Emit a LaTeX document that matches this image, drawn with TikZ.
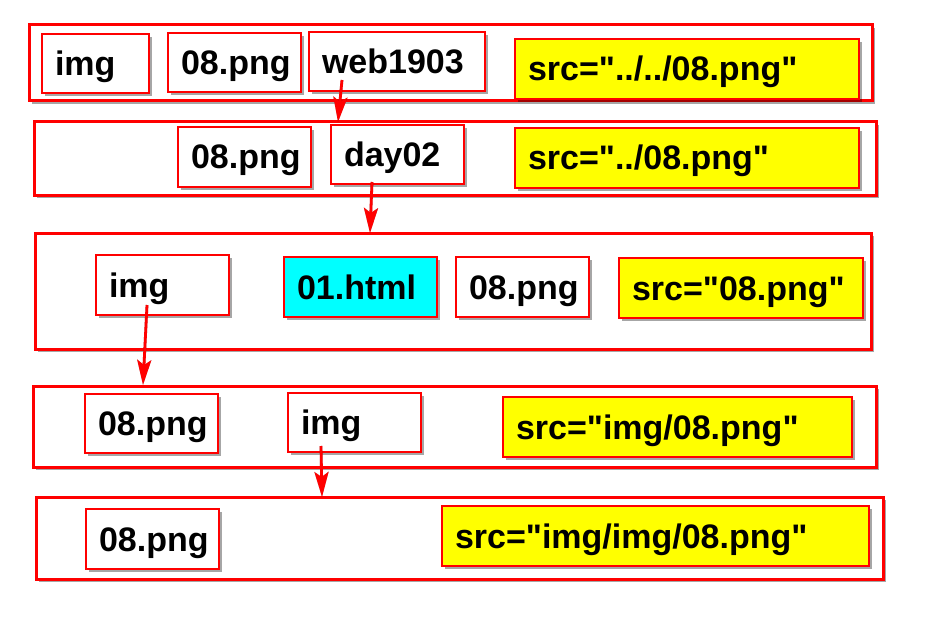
\documentclass[tikz,border=0pt]{standalone}
\usepackage{fontspec}
\setmainfont{Liberation Sans}[Ligatures=TeXOff]
\usetikzlibrary{arrows.meta,shadows}
\definecolor{pred}{RGB}{255,0,0}
\definecolor{pyel}{RGB}{255,255,0}
\definecolor{pcya}{RGB}{0,255,255}
\tikzset{
  shad/.style={drop shadow={shadow xshift=3pt, shadow yshift=-3pt, fill=black, opacity=0.35}},
  rowbox/.style={draw=pred, line width=3pt, fill=white, shad, outer sep=0pt, inner sep=0pt, anchor=north west},
  cell/.style={draw=pred, line width=2.5pt, fill=white, shad, inner xsep=13pt, inner ysep=0pt,
    text height=24pt, text depth=0pt, align=left, font=\fontsize{34}{40}\selectfont\bfseries,
    outer sep=0pt, anchor=north west},
  yel/.style={cell, fill=pyel},
  cya/.style={cell, fill=pcya},
  arr/.style={draw=pred, line width=2.8pt, -{Stealth[length=25pt,width=14pt,inset=5pt]}},
  arrshad/.style={draw=black, opacity=0.3, line width=2.8pt, -{Stealth[length=25pt,width=14pt,inset=5pt]}, xshift=3pt, yshift=-3pt}
}
\newcommand\pbox[7]{%
  \pgfmathsetmacro\pbw{#5-#3-26}\pgfmathsetmacro\pbh{#6-#4}%
  \node[#2, text width=\pbw pt, minimum height=\pbh pt] (#1) at (#3,#4) {#7};}
\newcommand\rbox[5]{%
  \pgfmathsetmacro\pbw{#4-#2}\pgfmathsetmacro\pbh{#5-#3}%
  \node[rowbox, minimum width=\pbw pt, minimum height=\pbh pt] (#1) at (#2,#3) {};}
\begin{document}
\begin{tikzpicture}[x=1pt,y=-1pt]
\useasboundingbox (0,0) rectangle (936,631);
% row 1
\rbox{r1}{29}{25}{872}{101}
\pbox{img1}{cell}{42}{34}{149}{93}{img}
\pbox{png1}{cell}{168}{33}{301}{92}{08.png}
\pbox{web}{cell}{309}{32}{485}{91}{web1903}
\pbox{src1}{yel}{515}{39}{859}{99}{src="../../08.png"}
% row 2
\rbox{r2}{34}{122}{876}{195}
\pbox{png2}{cell}{178}{127}{311}{187}{08.png}
\pbox{day}{cell}{331}{125}{464}{184}{day02}
\pbox{src2}{yel}{515}{128}{859}{188}{src="../08.png"}
% row 3
\rbox{r3}{35}{233}{871}{349}
\pbox{img3}{cell}{96}{255}{229}{315}{img}
\pbox{html}{cya}{284}{257}{437}{317}{01.html}
\pbox{png3}{cell}{456}{257}{589}{317}{08.png}
\pbox{src3}{yel}{619}{258}{863}{318}{src="08.png"}
% row 4
\rbox{r4}{33}{386}{876}{467}
\pbox{png4}{cell}{85}{394}{218}{453}{08.png}
\pbox{img4}{cell}{288}{393}{421}{452}{img}
\pbox{src4}{yel}{503}{397}{852}{457}{src="img/08.png"}
% row 5
\rbox{r5}{36}{497}{883}{579}
\pbox{png5}{cell}{86}{509}{219}{569}{08.png}
\pbox{src5}{yel}{442}{506}{869}{566}{src="img/img/08.png"}
% arrows
\coordinate (a1s) at (342,80);  \coordinate (a1e) at (338,122);
\coordinate (a2s) at (372,182); \coordinate (a2e) at (370,233);
\coordinate (a3s) at (147,305); \coordinate (a3e) at (143,385);
\coordinate (a4s) at (321,446); \coordinate (a4e) at (322,497);
\foreach \s/\e in {a1s/a1e,a2s/a2e,a3s/a3e,a4s/a4e}{
  \draw[arrshad] (\s) -- (\e);
  \draw[arr] (\s) -- (\e);
}
\end{tikzpicture}
\end{document}
